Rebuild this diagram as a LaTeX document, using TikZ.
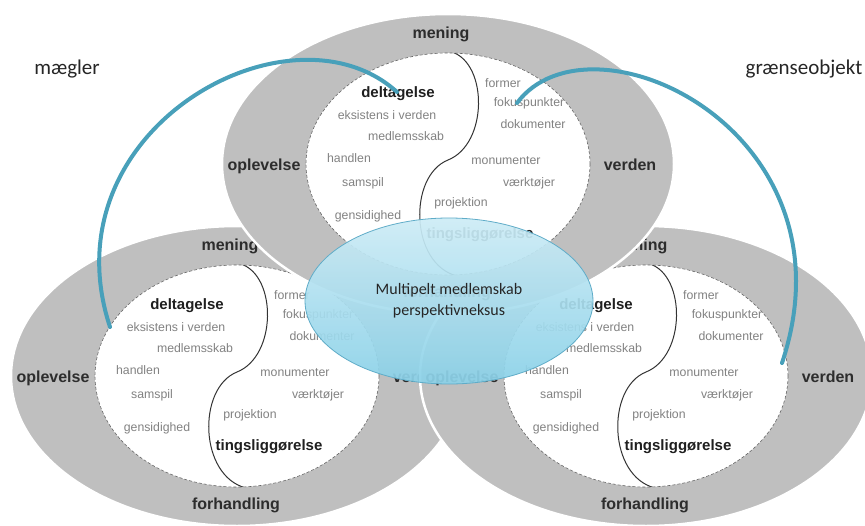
\documentclass[tikz,border=0pt]{standalone}
\usepackage{fontspec}
\setmainfont{Liberation Sans}
\newfontfamily\calib{Carlito}
\usetikzlibrary{shapes.geometric}
\definecolor{ringgray}{RGB}{191,191,191}
\definecolor{lbltxt}{RGB}{45,45,45}
\definecolor{smalltxt}{RGB}{130,130,130}
\definecolor{arcblue}{RGB}{72,160,186}
\definecolor{elledge}{RGB}{95,172,200}
\definecolor{elltop}{RGB}{205,236,246}
\definecolor{ellbot}{RGB}{138,209,232}
\tikzset{
 outlbl/.style={anchor=mid, inner sep=0pt, text=lbltxt, font=\fontsize{16}{18}\selectfont\bfseries},
 inlbl/.style={anchor=mid, inner sep=0pt, text=black!88, font=\fontsize{15}{17}\selectfont\bfseries},
 smlbl/.style={anchor=mid, inner sep=0pt, text=smalltxt, font=\fontsize{12.3}{14}\selectfont},
 sidelbl/.style={anchor=mid, inner sep=0pt, text=black!85, font=\calib\fontsize{21}{24}\selectfont},
 bluearc/.style={draw=arcblue, line width=4pt, line cap=round},
 sline/.style={draw=black!80, line width=1pt},
 inedge/.style={draw=black!60, line width=0.6pt, densely dashed},
}
\newcommand\RingUnit[3]{%
\begin{scope}[shift={(#2,#3)}]
 \path[fill=ringgray, draw=white, line width=2.5pt] (0,0) ellipse [x radius=226, y radius=150];
 \path[fill=white] (0,0) ellipse [x radius=142, y radius=111];
 \begin{scope}
  \clip (0,0) ellipse [x radius=142, y radius=111];
  \draw[sline] (4,-112) .. controls (40,-100) and (40,-20) .. (0,-4) .. controls (-40,12) and (-38,100) .. (9,112);
 \end{scope}
 \draw[inedge] (0,0) ellipse [x radius=142, y radius=111];
 \node[outlbl] (#1-men) at (-7,-128) {mening};
 \node[outlbl] (#1-opl) at (-184,4) {oplevelse};
 \node[outlbl] (#1-ver) at (182,4) {verden};
 \node[outlbl] (#1-for) at (-1,131) {forhandling};
 \node[inlbl] (#1-del) at (-50,-69) {deltagelse};
 \node[smlbl] (#1-eks) at (-61,-47) {eksistens i verden};
 \node[smlbl] (#1-med) at (-42,-26) {medlemsskab};
 \node[smlbl] (#1-han) at (-99,-4) {handlen};
 \node[smlbl] (#1-sam) at (-85,20) {samspil};
 \node[smlbl] (#1-gen) at (-80,53) {gensidighed};
 \node[smlbl] (#1-fmr) at (55,-79) {former};
 \node[smlbl] (#1-fok) at (81,-60) {fokuspunkter};
 \node[smlbl] (#1-dok) at (85,-38) {dokumenter};
 \node[smlbl] (#1-mon) at (58,-2) {monumenter};
 \node[smlbl] (#1-vaerk) at (81,20) {værktøjer};
 \node[smlbl] (#1-pro) at (13,40) {projektion};
 \node[inlbl] (#1-tin) at (32,72) {tingsliggørelse};
\end{scope}}
\begin{document}
\begin{tikzpicture}[x=1pt,y=-1pt]
\useasboundingbox (0,0) rectangle (865,525);
\clip (0,0) rectangle (865,525);
\fill[white] (0,0) rectangle (865,525);
\RingUnit{L}{237}{376}
\RingUnit{R}{646}{376}
\RingUnit{T}{448}{164}
\node[ellipse, draw=elledge, line width=0.8pt, top color=elltop, bottom color=ellbot,
  fill opacity=0.92, text opacity=1, minimum width=288pt, minimum height=166pt,
  inner sep=0pt, align=center, font=\calib\fontsize{16}{21}\selectfont, text=black!85]
  (nexus) at (449,301) {Multipelt medlemskab\\perspektivneksus};
\coordinate (mA) at (110,327);
\coordinate (mB) at (397,92);
\draw[bluearc] (mA) .. controls (45,130) and (290,-5) .. (mB);
\coordinate (gA) at (517,103);
\coordinate (gB) at (782,363);
\draw[bluearc] (gA) .. controls (590,5) and (860,130) .. (gB);
\node[sidelbl] (maegler) at (67,72) {mægler};
\node[sidelbl] (graense) at (804,72) {grænseobjekt};
\end{tikzpicture}
\end{document}
